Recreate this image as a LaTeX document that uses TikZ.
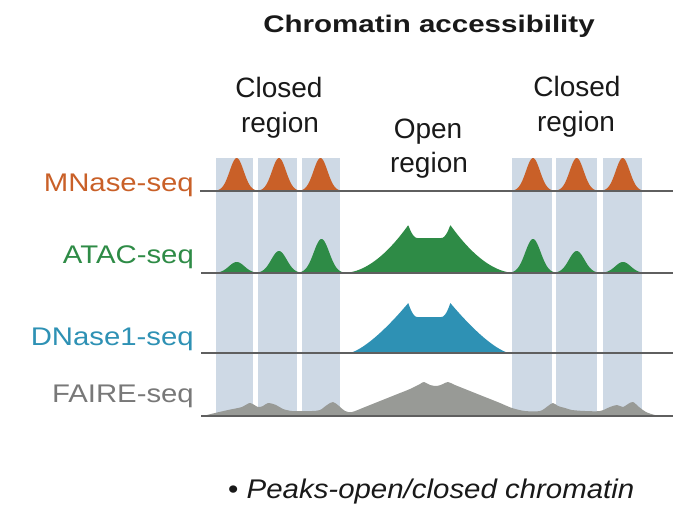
\documentclass[tikz,border=0pt]{standalone}
\usepackage{fontspec}
\setmainfont{Liberation Sans}
\usepackage{graphicx}
\definecolor{orangeC}{RGB}{201,96,40}
\definecolor{greenC}{RGB}{46,139,70}
\definecolor{blueC}{RGB}{46,145,180}
\definecolor{greyF}{RGB}{152,154,150}
\definecolor{greyT}{RGB}{120,120,120}
\definecolor{colB}{RGB}{206,217,229}
\definecolor{lineC}{RGB}{95,95,95}
\definecolor{textC}{RGB}{25,25,25}
\begin{document}
\begin{tikzpicture}[x=1pt,y=-1pt,
  colbox/.style={fill=colB, draw=none},
  baseln/.style={draw=lineC, line width=1.8pt},
  regionlbl/.style={anchor=base, inner sep=0pt, text=textC, font=\fontsize{28}{32}\selectfont},
  sidelbl/.style={anchor=base east, inner sep=0pt},
  declare function={
    atac(\t)=(abs(\t-429.3)<21) ? (35+13*(max(abs(\t-429.3)-12,0)/9)^2) : (48*(max(1-(abs(\t-429.3)-21)/65,0.001))^1.9);
    dnase(\t)=(abs(\t-429.3)<21) ? (36+14*(max(abs(\t-429.3)-12,0)/9)^2) : (50*(max(1-(abs(\t-429.3)-21)/59,0.001))^1.4);
  }]
\useasboundingbox (0,0) rectangle (695,508);
% columns
\foreach \xa/\xb in {216/253, 258/297, 302/340, 512/552, 556/597, 603/642}
  \fill[colbox] (\xa,158) rectangle (\xb,416);
% MNase peaks
\foreach \cx in {236.7, 279, 320.5, 533, 576.7, 622.7} {
  \pgfmathsetmacro\xa{\cx-26}
  \pgfmathsetmacro\xb{\cx+26}
  \fill[orangeC] plot[domain=\xa:\xb, samples=60] (\x,{191-33*exp(-((\x-\cx)^2)/98)}) -- cycle;
}
% ATAC small peaks
\foreach \cx/\hh in {236.7/11, 279/22, 321.5/34, 533/34, 576.7/22, 623/11} {
  \pgfmathsetmacro\xa{\cx-28}
  \pgfmathsetmacro\xb{\cx+28}
  \fill[greenC] plot[domain=\xa:\xb, samples=60] (\x,{273-\hh*exp(-((\x-\cx)^2)/120)}) -- cycle;
}
% ATAC open
\fill[greenC] plot[domain=343.3:515.3, samples=240] (\x,{273-atac(\x)}) -- cycle;
% DNase open
\fill[blueC] plot[domain=349.3:509.3, samples=240] (\x,{353-dnase(\x)}) -- cycle;
% FAIRE
\fill[greyF] plot[smooth, tension=0.5] coordinates {
 (203,416) (215,413) (228,410) (242,407) (250,403) (258,407) (263,406) (268,403)
 (276,405) (283,409) (292,411) (302,411) (312,411) (320,410) (327,405) (333,402)
 (339,406) (345,411) (352,412) (365,407) (380,401) (395,395) (410,389) (420,384)
 (424,382) (430,385) (437,386) (443,384) (448,382) (455,385) (470,391) (485,397)
 (500,403) (512,408) (525,411) (540,411) (548,406) (553,403) (558,406) (565,408)
 (572,410) (585,411) (600,411) (610,407) (617,405) (623,407) (628,404) (633,402)
 (639,407) (646,412) (655,415) (665,416)} -- cycle;
% baselines
\coordinate (l1a) at (200,191); \coordinate (l1b) at (673,191);
\coordinate (l2a) at (201,273); \coordinate (l2b) at (673,273);
\coordinate (l3a) at (201,353); \coordinate (l3b) at (673,353);
\coordinate (l4a) at (201,416); \coordinate (l4b) at (673,416);
\draw[baseln] (l1a) -- (l1b);
\draw[baseln] (l2a) -- (l2b);
\draw[baseln] (l3a) -- (l3b);
\draw[baseln] (l4a) -- (l4b);
% texts
\node[anchor=base, inner sep=0pt, text=textC] (title) at (429,33)
  {\scalebox{1.23}[1]{\fontsize{24}{28}\selectfont\bfseries Chromatin accessibility}};
\node[regionlbl] (cl1) at (279,98) {Closed};
\node[regionlbl] (cl2) at (280,132) {region};
\node[regionlbl] (op1) at (428,138) {Open};
\node[regionlbl] (op2) at (429,172) {region};
\node[regionlbl] (cr1) at (577,97) {Closed};
\node[regionlbl] (cr2) at (576,131) {region};
\node[sidelbl, text=orangeC] (mnase) at (194,191.5) {\scalebox{1.15}[1]{\fontsize{25.5}{30}\selectfont MNase-seq}};
\node[sidelbl, text=greenC] (atacl) at (194,263) {\scalebox{1.15}[1]{\fontsize{25.5}{30}\selectfont ATAC-seq}};
\node[sidelbl, text=blueC] (dnasel) at (194,345) {\scalebox{1.15}[1]{\fontsize{25.5}{30}\selectfont DNase1-seq}};
\node[sidelbl, text=greyT] (fairel) at (194,402) {\scalebox{1.15}[1]{\fontsize{25.5}{30}\selectfont FAIRE-seq}};
\node[anchor=base west, inner sep=0pt, text=textC] (note) at (228,498)
  {\scalebox{1.09}[1]{\fontsize{27}{32}\selectfont\textbullet\ \itshape Peaks-open/closed chromatin}};
\end{tikzpicture}
\end{document}
